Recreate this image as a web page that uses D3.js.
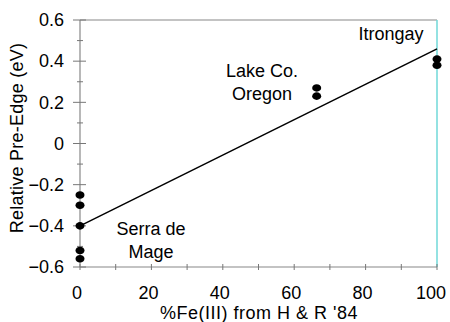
<!DOCTYPE html>
<html>
<head>
<meta charset="utf-8">
<script src="https://cdn.jsdelivr.net/npm/d3@7"></script>
<style>
  body { margin: 0; background: #fff; }
  svg { display: block; font-family: "Liberation Sans", Arial, sans-serif; }
</style>
</head>
<body>
<svg width="450" height="322"></svg>
<script>
// measured points: % Fe(III) vs relative pre-edge position
const serraX = [0, 0, 0, 0, 0];
const serraY = [-0.25, -0.30, -0.40, -0.52, -0.56];
const lakeX = [66.3, 66.3];
const lakeY = [0.27, 0.23];
const itrongayX = [100, 100];
const itrongayY = [0.41, 0.38];

// fitted line end points
const fitX = [0, 100];
const fitY = [-0.40, 0.46];

const xTicks = [0, 20, 40, 60, 80, 100];
const yTicks = [-0.6, -0.4, -0.2, 0, 0.2, 0.4, 0.6];

const svg = d3.select("svg");
const mLeft = 80, mRight = 437, mTop = 20, mBottom = 267;
const fs = 18;

const x = d3.scaleLinear().domain([0, 100]).range([mLeft, mRight]);
const y = d3.scaleLinear().domain([-0.6, 0.6]).range([mBottom, mTop]);

// frame
svg.append("line").attr("x1", mLeft).attr("x2", mRight).attr("y1", mTop).attr("y2", mTop)
  .attr("stroke", "#888").attr("stroke-width", 1.2);
svg.append("line").attr("x1", mRight).attr("x2", mRight).attr("y1", mTop).attr("y2", mBottom)
  .attr("stroke", "#70d8d8").attr("stroke-width", 1.5);

// x axis, ticks crossing the axis line
const gx = svg.append("g").attr("transform", `translate(0,${mBottom})`);
gx.append("line").attr("x1", mLeft).attr("x2", mRight).attr("stroke", "#888").attr("stroke-width", 1.2);
gx.selectAll(".tk").data(d3.range(0, 101, 10)).join("line")
  .attr("x1", d => x(d)).attr("x2", d => x(d)).attr("y1", -3).attr("y2", 3)
  .attr("stroke", "#777");
gx.selectAll("text").data(xTicks).join("text")
  .attr("x", d => d === 100 ? 446 : x(d) - 3).attr("y", 32)
  .attr("text-anchor", d => d === 100 ? "end" : "middle")
  .attr("font-size", fs).attr("fill", "#000")
  .text(d => d);

// y axis
const gy = svg.append("g").attr("transform", `translate(${mLeft},0)`);
gy.append("line").attr("y1", mTop).attr("y2", mBottom).attr("stroke", "#888").attr("stroke-width", 1.2);
gy.selectAll(".minor").data(d3.range(-5, 6, 2).map(d => d / 10)).join("line")
  .attr("y1", d => y(d)).attr("y2", d => y(d)).attr("x1", -3).attr("x2", 3)
  .attr("stroke", "#777");
gy.selectAll(".major").data(yTicks).join("line")
  .attr("y1", d => y(d)).attr("y2", d => y(d)).attr("x1", -7).attr("x2", 6)
  .attr("stroke", "#777");
gy.selectAll("text").data(yTicks).join("text")
  .attr("x", -16).attr("y", d => y(d)).attr("dy", "0.35em")
  .attr("text-anchor", "end").attr("font-size", fs).attr("fill", "#000")
  .text(d => d3.format("")(+d.toFixed(1)));

// axis titles
svg.append("text").attr("x", 259).attr("y", 319)
  .attr("text-anchor", "middle").attr("font-size", fs).attr("letter-spacing", 0.5)
  .text("%Fe(III) from H & R '84");
svg.append("text").attr("transform", `translate(23,138) rotate(-90)`)
  .attr("text-anchor", "middle").attr("font-size", fs).attr("letter-spacing", 0.25)
  .text("Relative Pre-Edge (eV)");

// fit line
svg.append("path")
  .datum(d3.zip(fitX, fitY))
  .attr("d", d3.line().x(d => x(d[0])).y(d => y(d[1])))
  .attr("fill", "none").attr("stroke", "#000").attr("stroke-width", 1.5);

// points
const pts = [
  ...d3.zip(serraX, serraY),
  ...d3.zip(lakeX, lakeY),
  ...d3.zip(itrongayX, itrongayY)
];
svg.selectAll(".pt").data(pts).join("ellipse")
  .attr("cx", d => x(d[0])).attr("cy", d => y(d[1]))
  .attr("rx", 4.5).attr("ry", 3.8).attr("fill", "#000");

// annotations
const notes = [
  { lines: ["Serra de", "Mage"], x: 19.9, y: -0.445 },
  { lines: ["Lake Co.", "Oregon"], x: 51, y: 0.323 },
  { lines: ["Itrongay"], x: 87.1, y: 0.503 }
];
notes.forEach(n => {
  const t = svg.append("text").attr("text-anchor", "middle").attr("font-size", fs);
  n.lines.forEach((s, i) => {
    t.append("tspan").attr("x", x(n.x)).attr("y", y(n.y) + i * 23).text(s);
  });
});
</script>
</body>
</html>
